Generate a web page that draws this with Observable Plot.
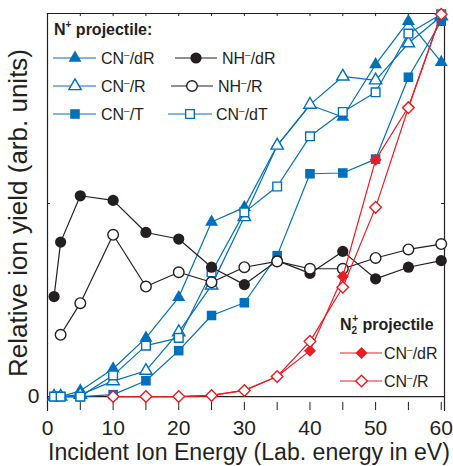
<!DOCTYPE html>
<html><head><meta charset="utf-8">
<script src="https://cdn.jsdelivr.net/npm/d3@7"></script>
<script src="https://cdn.jsdelivr.net/npm/@observablehq/plot@0.6"></script>
<style>
body{margin:0;background:#fff;}
#chart{width:453px;height:466px;}
</style></head><body><div id="chart"></div>
<script>
// ---- data ----
const energyN = [1, 2, 5, 10, 15, 20, 25, 30, 35, 40, 45, 50, 55, 60];
const cnDR_N = [0, 0, 0.015, 0.072, 0.152, 0.257, 0.452, 0.49, 0.65, 0.755, 0.724, 0.86, 0.972, 0.866];
const cnR_N  = [0, 0, 0.005, 0.04, 0.067, 0.167, 0.288, 0.465, 0.65, 0.756, 0.829, 0.819, 0.915, 0.985];
const cnT_N  = [0, 0, 0, 0.005, 0.041, 0.119, 0.21, 0.243, 0.365, 0.577, 0.579, 0.615, 0.827, 0.972];
const cnDT_N = [0, 0, 0, 0.055, 0.132, 0.152, 0.322, 0.477, 0.544, 0.674, 0.737, 0.788, 0.94, 0.99];
const nhDR_N = [0.259, 0.40, 0.52, 0.508, 0.425, 0.408, 0.335, 0.29, 0.352, 0.319, 0.376, 0.305, 0.335, 0.352];
const energyNhR = [2, 5, 10, 15, 20, 25, 30, 35, 40, 45, 50, 55, 60];
const nhR_N  = [0.16, 0.242, 0.419, 0.285, 0.322, 0.296, 0.335, 0.35, 0.331, 0.331, 0.359, 0.381, 0.395];
const energyN2 = [10, 15, 20, 25, 30, 35, 40, 45, 50, 55, 60];
const cnDR_N2 = [0, 0, 0, 0.003, 0.016, 0.052, 0.119, 0.311, 0.613, 0.75, 0.99];
const cnR_N2  = [0, 0, 0, 0.003, 0.016, 0.052, 0.143, 0.283, 0.49, 0.748, 0.99];
const xTicks = [0, 10, 20, 30, 40, 50, 60];
const yTicks = [0];

// ---- styling ----
const blue = "#0070bd", red = "#ec1c24", black = "#231f20";
const font = "'Liberation Sans', Arial, Helvetica, sans-serif";
const yMin = -0.036, yMax = 0.992, xMax = 60.5;
const rows = (xs, ys) => xs.map((x, i) => ({x, y: ys[i]}));

const series = [
  {d: rows(energyN, cnDR_N), color: blue, symbol: "triangle", r: 4.8, filled: true},
  {d: rows(energyN, cnT_N), color: blue, symbol: "square", r: 5.4, filled: true},
  {d: rows(energyN, cnR_N), color: blue, symbol: "triangle", r: 4.6, filled: false},
  {d: rows(energyN, cnDT_N), color: blue, symbol: "square", r: 4.9, filled: false},
  {d: rows(energyN, nhDR_N), color: black, symbol: "circle", r: 5.6, filled: true},
  {d: rows(energyNhR, nhR_N), color: black, symbol: "circle", r: 5.3, filled: false},
  {d: rows(energyN2, cnDR_N2), color: red, symbol: "diamond2", r: 5.4, filled: true},
  {d: rows(energyN2, cnR_N2), color: red, symbol: "diamond2", r: 5.2, filled: false}
];

const marks = [
  Plot.frame({anchor: "top", stroke: black, strokeWidth: 1.2}),
  Plot.frame({anchor: "left", stroke: black, strokeWidth: 1.2}),
  Plot.frame({anchor: "right", stroke: black, strokeWidth: 1.2}),
  Plot.ruleY([0], {stroke: black, strokeWidth: 1.2}),
  Plot.ruleX(d3.range(0, 61, 5), {y1: yMin, y2: yMin + 0.021, stroke: black, strokeWidth: 1}),
  Plot.ruleX(d3.range(0, 61, 5), {y1: yMax, y2: yMax - 0.008, stroke: black, strokeWidth: 1}),
  Plot.ruleY([0.5], {x1: 0, x2: 0.45, stroke: black, strokeWidth: 1}),
  Plot.ruleY([0.5], {x1: xMax - 0.45, x2: xMax, stroke: black, strokeWidth: 1}),
];
for (const s of series) {
  marks.push(Plot.line(s.d, {x: "x", y: "y", stroke: s.color, strokeWidth: 1.2}));
  marks.push(Plot.dot(s.d, {x: "x", y: "y", symbol: s.symbol, r: s.r,
    fill: s.filled ? s.color : "white", stroke: s.filled ? "none" : s.color, strokeWidth: 1.4}));
}
marks.push(
  Plot.axisX(xTicks, {tickSize: 0, tickPadding: 10, fontSize: 21, fill: black}),
  Plot.axisY(yTicks, {tickSize: 0, tickPadding: 8, fontSize: 21, fill: black, tickFormat: d3.format("d")}),
  Plot.text(["Incident Ion Energy (Lab. energy in eV)"], {frameAnchor: "bottom", lineAnchor: "middle", textAnchor: "middle", dy: 42, dx: 3, fontSize: 23.1, fill: black}),
  Plot.text(["Relative ion yield (arb. units)"], {frameAnchor: "left", textAnchor: "middle", lineAnchor: "middle", rotate: -90, dx: -29, dy: 1, fontSize: 26, fill: black})
);

const plot = Plot.plot({
  width: 453, height: 466,
  marginLeft: 47, marginRight: 9, marginTop: 13, marginBottom: 56,
  style: {fontFamily: font, background: "white", overflow: "visible"},
  x: {domain: [0, xMax], label: null},
  y: {domain: [yMin, yMax], label: null},
  marks
});
document.getElementById("chart").appendChild(plot);

// ---- legend (drawn into the same SVG) ----
const svg = d3.select(plot);
const g = svg.append("g").attr("font-family", font).attr("fill", black).attr("text-anchor", "start");
function label(sel, x, y, base, sup, rest, size) {
  const t = sel.append("text").attr("x", x).attr("y", y).attr("font-size", size).attr("text-anchor", "start");
  t.append("tspan").text(base);
  t.append("tspan").attr("dy", -6).attr("font-size", size * 0.62).text(sup);
  t.append("tspan").attr("dy", 6).text(rest);
  return t;
}
function entry(x1, x2, xm, xt, y, s, name) {
  g.append("line").attr("x1", x1).attr("x2", x2).attr("y1", y).attr("y2", y)
    .attr("stroke", s.color).attr("stroke-width", 1.2);
  const sym = {triangle: d3.symbolTriangle, square: d3.symbolSquare, circle: d3.symbolCircle, diamond2: d3.symbolDiamond2}[s.symbol];
  g.append("path").attr("transform", `translate(${xm},${y})`)
    .attr("d", d3.symbol(sym, Math.PI * s.r * s.r)())
    .attr("fill", s.filled ? s.color : "white").attr("stroke", s.filled ? "none" : s.color).attr("stroke-width", 1.4);
  label(g, xt, y + 6, name[0], "\u2013", name[1], 16);
}
// N+ title
const t1 = g.append("text").attr("x", 54).attr("y", 35).attr("font-size", 16).attr("font-weight", "bold");
t1.append("tspan").text("N");
t1.append("tspan").attr("dy", -7).attr("font-size", 10).text("+");
t1.append("tspan").attr("dy", 7).text(" projectile:");
entry(53, 96, 75, 101, 58, series[0], ["CN", "/dR"]);
entry(53, 96, 75, 101, 86, series[2], ["CN", "/R"]);
entry(53, 96, 75, 101, 114, series[1], ["CN", "/T"]);
entry(175, 217, 196, 222, 58, series[4], ["NH", "/dR"]);
entry(171, 213, 192, 218, 86, series[5], ["NH", "/R"]);
entry(168, 212, 190, 216, 114, series[3], ["CN", "/dT"]);
// N2+ title
const t2 = g.append("text").attr("x", 340).attr("y", 330).attr("font-size", 16).attr("font-weight", "bold");
t2.append("tspan").text("N");
t2.append("tspan").attr("dy", 4).attr("font-size", 10).text("2");
t2.append("tspan").attr("dx", -5).attr("dy", -12).attr("font-size", 10).text("+");
t2.append("tspan").attr("dy", 8).text(" projectile");
entry(340, 382, 361.5, 384, 353, series[6], ["CN", "/dR"]);
entry(340, 382, 361.5, 384, 381, series[7], ["CN", "/R"]);
</script></body></html>
